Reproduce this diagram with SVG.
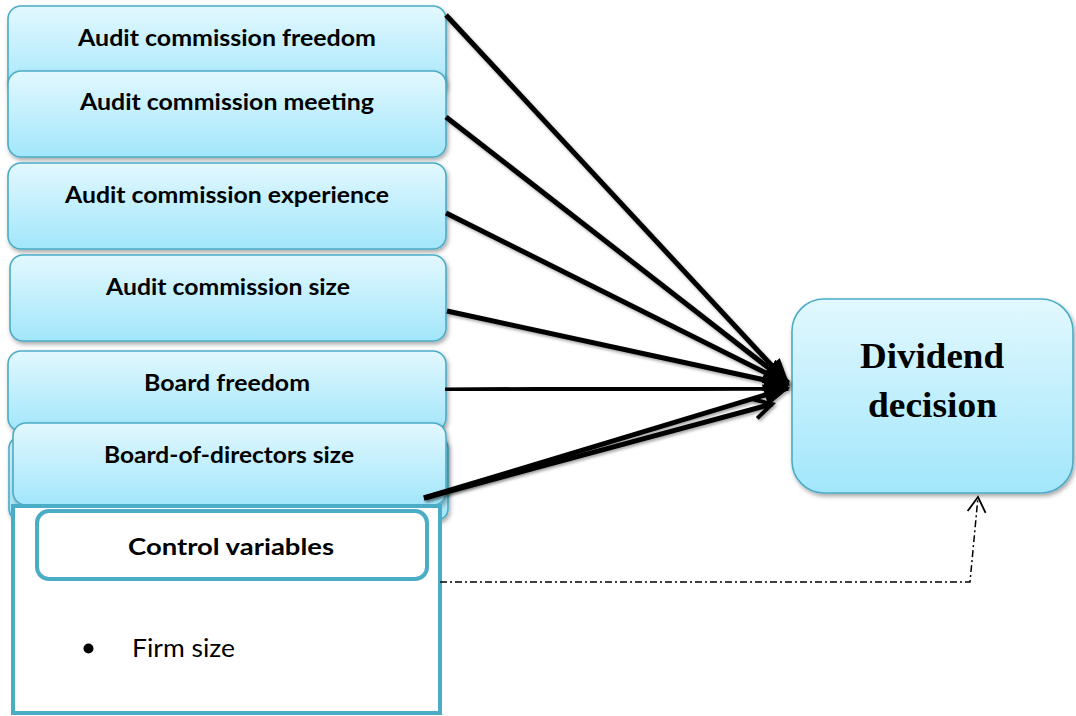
<svg xmlns="http://www.w3.org/2000/svg" width="1076" height="716" viewBox="0 0 1076 716">
  <defs>
    <linearGradient id="cyanFill" x1="0" y1="0" x2="0" y2="1">
      <stop offset="0" stop-color="#e2f8fe"/>
      <stop offset="1" stop-color="#a2e6fb"/>
    </linearGradient>
    <filter id="softShadow" x="-10%" y="-10%" width="120%" height="130%">
      <feDropShadow dx="1.5" dy="2.5" stdDeviation="2" flood-color="#000" flood-opacity="0.35"/>
    </filter>
    <filter id="lineShadow" x="-10%" y="-10%" width="120%" height="130%">
      <feDropShadow dx="1.5" dy="2" stdDeviation="1.5" flood-color="#000" flood-opacity="0.35"/>
    </filter>
    <marker id="headSolid" markerUnits="userSpaceOnUse" markerWidth="26" markerHeight="26" refX="24" refY="13" orient="auto">
      <path d="M0,2 L26,13 L0,24 Z" fill="#000"/>
    </marker>
    <marker id="headOpen" markerUnits="userSpaceOnUse" markerWidth="26" markerHeight="26" refX="22" refY="13" orient="auto">
      <path d="M4,3 L22,13 L4,23" fill="none" stroke="#000" stroke-width="4"/>
    </marker>
    <marker id="headThin" markerUnits="userSpaceOnUse" markerWidth="24" markerHeight="24" refX="20" refY="12" orient="auto">
      <path d="M5,3 L20,12 L5,21" fill="none" stroke="#000" stroke-width="1.8"/>
    </marker>
  </defs>
  <style>
    .box { fill: url(#cyanFill); stroke: #4bacc6; stroke-width: 1.6; filter: url(#softShadow); }
    .lbl { font-family: Lato, "Liberation Sans", sans-serif; font-weight: bold; font-size: 22px; fill: #000; text-anchor: middle; }
    .big { font-family: "Liberation Serif", "Times New Roman", serif; font-weight: bold; font-size: 36px; fill: #000; text-anchor: middle; }
    .link { stroke: #000; stroke-width: 5; fill: none; stroke-linecap: butt; filter: url(#lineShadow); }
  </style>

  <rect width="1076" height="716" fill="#ffffff"/>

  <!-- independent variables -->
  <g id="n-freedom">
    <rect class="box" x="8" y="6" width="438" height="90" rx="13"/>
    <text class="lbl" x="227" y="46" textLength="298" lengthAdjust="spacingAndGlyphs">Audit commission freedom</text>
  </g>
  <g id="n-meeting">
    <rect class="box" x="8" y="71" width="438" height="86" rx="13"/>
    <text class="lbl" x="227" y="110" textLength="294" lengthAdjust="spacingAndGlyphs">Audit commission meeting</text>
  </g>
  <g id="n-experience">
    <rect class="box" x="8" y="163" width="438" height="86" rx="13"/>
    <text class="lbl" x="227" y="203" textLength="324" lengthAdjust="spacingAndGlyphs">Audit commission experience</text>
  </g>
  <g id="n-auditsize">
    <rect class="box" x="10" y="255" width="436" height="86" rx="13"/>
    <text class="lbl" x="228" y="295" textLength="244" lengthAdjust="spacingAndGlyphs">Audit commission size</text>
  </g>
  <g id="n-boardfreedom">
    <rect class="box" x="8" y="351" width="438" height="80" rx="13"/>
    <text class="lbl" x="227" y="391" textLength="166" lengthAdjust="spacingAndGlyphs">Board freedom</text>
  </g>
  <g id="n-backplate">
    <rect class="box" x="9" y="437" width="439" height="83" rx="11"/>
  </g>
  <g id="n-boardsize">
    <rect class="box" x="13" y="423" width="433" height="82" rx="13"/>
    <text class="lbl" x="229" y="463" textLength="250" lengthAdjust="spacingAndGlyphs">Board-of-directors size</text>
  </g>

  <!-- control variables panel -->
  <g id="n-controls">
    <rect x="13" y="506" width="427" height="207" fill="#ffffff" stroke="#4bacc6" stroke-width="4"/>
    <rect x="37" y="511" width="390" height="68" rx="12" fill="#ffffff" stroke="#4bacc6" stroke-width="4"/>
    <text class="lbl" x="231" y="555" font-size="25" textLength="206" lengthAdjust="spacingAndGlyphs">Control variables</text>
    <circle cx="88.5" cy="648.5" r="5" fill="#000"/>
    <text x="132" y="657" font-family="Lato, 'Liberation Sans', sans-serif" font-size="25" fill="#000" textLength="103" lengthAdjust="spacingAndGlyphs">Firm size</text>
  </g>

  <!-- dependent variable -->
  <g id="n-dividend">
    <rect class="box" x="792" y="299" width="281" height="194" rx="32"/>
    <text class="big" x="932" y="368" textLength="144" lengthAdjust="spacingAndGlyphs">Dividend</text>
    <text class="big" x="932.5" y="417" textLength="129" lengthAdjust="spacingAndGlyphs">decision</text>
  </g>

  <!-- connectors -->
  <g id="connectors">
    <line class="link" x1="446" y1="15" x2="788" y2="383" marker-end="url(#headSolid)"/>
    <line class="link" x1="446" y1="117" x2="788" y2="383" marker-end="url(#headSolid)"/>
    <line class="link" x1="446" y1="213" x2="788" y2="384" marker-end="url(#headSolid)"/>
    <line class="link" x1="447" y1="311" x2="788" y2="385" marker-end="url(#headSolid)"/>
    <line class="link" x1="445" y1="390" x2="788" y2="388" marker-end="url(#headSolid)"/>
    <line class="link" x1="424" y1="498" x2="788" y2="388" marker-end="url(#headSolid)"/>
    <line class="link" x1="424" y1="498" x2="772" y2="404" stroke-width="3.5" marker-end="url(#headOpen)"/>
    <path d="M440,582 L970,582 L978,497" fill="none" stroke="#000" stroke-width="1.5" stroke-dasharray="7 3 2 3" marker-end="url(#headThin)"/>
  </g>
</svg>
